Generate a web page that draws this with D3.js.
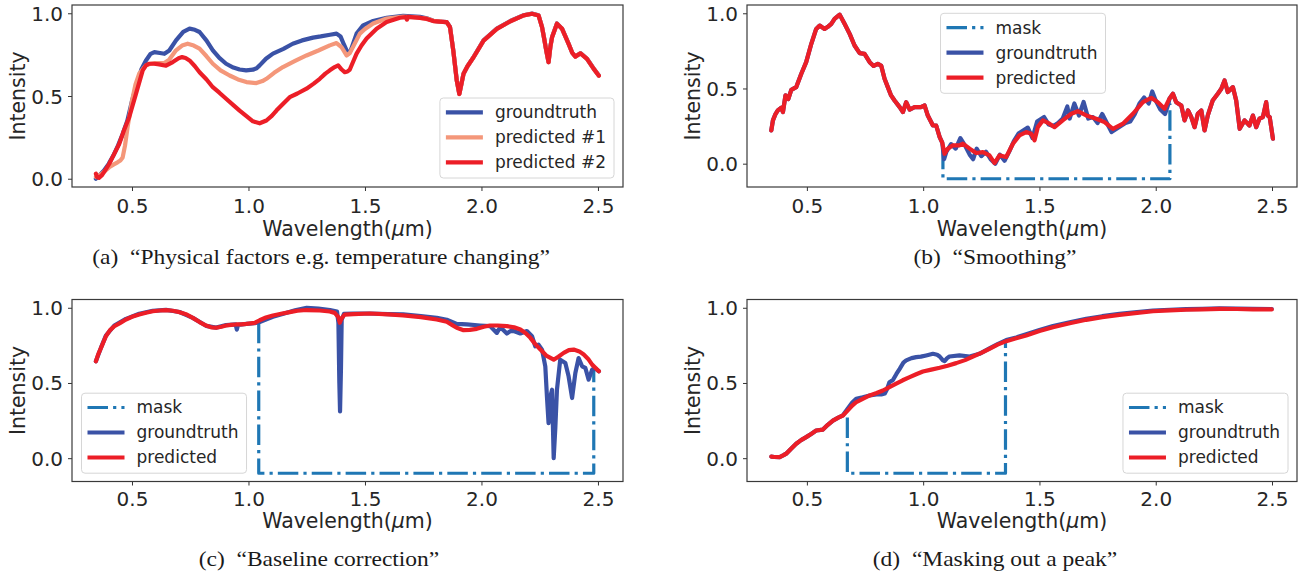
<!DOCTYPE html>
<html>
<head>
<meta charset="utf-8">
<script src="https://cdn.jsdelivr.net/npm/d3@7"></script>
<style>
  body { margin: 0; background: #fff; }
  svg { display: block; }
  .tick text { font-family: "DejaVu Sans", sans-serif; }
</style>
</head>
<body>
<svg id="fig" width="1299" height="576"></svg>
<script>
// ---- shared axis settings ----
const xTicks = [0.5, 1.0, 1.5, 2.0, 2.5];
const yTicks = [0.0, 0.5, 1.0];
const xLabel = "Wavelength(";
const yLabel = "Intensity";

// ---- (a) physical factors ----
const aTruth = [[0.345,0.00],[0.36,0.02],[0.38,0.05],[0.40,0.09],[0.42,0.14],[0.44,0.20],[0.46,0.27],[0.48,0.35],[0.50,0.47],[0.52,0.57],[0.54,0.66],[0.56,0.715],[0.58,0.755],[0.596,0.765],[0.62,0.76],[0.639,0.755],[0.66,0.775],[0.689,0.836],[0.72,0.888],[0.747,0.907],[0.77,0.90],[0.79,0.887],[0.82,0.835],[0.847,0.776],[0.875,0.73],[0.904,0.695],[0.935,0.672],[0.962,0.66],[0.99,0.655],[1.019,0.659],[1.035,0.668],[1.048,0.685],[1.075,0.725],[1.105,0.756],[1.15,0.785],[1.19,0.816],[1.23,0.836],[1.277,0.853],[1.31,0.86],[1.35,0.87],[1.378,0.877],[1.395,0.86],[1.41,0.81],[1.421,0.776],[1.43,0.758],[1.44,0.78],[1.464,0.877],[1.492,0.927],[1.535,0.953],[1.593,0.973],[1.664,0.984],[1.70,0.982],[1.736,0.978],[1.765,0.97],[1.793,0.955],[1.82,0.95],[1.851,0.947],[1.865,0.917],[1.879,0.776],[1.894,0.594],[1.905,0.513],[1.915,0.58],[1.923,0.635],[1.94,0.68],[1.966,0.735],[2.009,0.836],[2.066,0.907],[2.124,0.953],[2.181,0.988],[2.217,0.998],[2.245,0.988],[2.26,0.917],[2.27,0.84],[2.278,0.776],[2.288,0.705],[2.296,0.80],[2.303,0.856],[2.324,0.938],[2.346,0.907],[2.374,0.816],[2.39,0.76],[2.403,0.739],[2.425,0.759],[2.453,0.725],[2.482,0.665],[2.504,0.624]];
const aPred1 = [[0.345,0.01],[0.37,0.03],[0.402,0.069],[0.42,0.085],[0.438,0.099],[0.45,0.11],[0.46,0.129],[0.47,0.20],[0.481,0.311],[0.50,0.47],[0.515,0.57],[0.531,0.635],[0.56,0.685],[0.58,0.695],[0.60,0.699],[0.639,0.699],[0.66,0.72],[0.689,0.776],[0.715,0.805],[0.739,0.816],[0.765,0.805],[0.79,0.786],[0.82,0.74],[0.847,0.695],[0.88,0.655],[0.919,0.624],[0.955,0.60],[0.991,0.584],[1.034,0.578],[1.06,0.59],[1.077,0.604],[1.11,0.64],[1.148,0.675],[1.20,0.712],[1.249,0.745],[1.30,0.775],[1.349,0.806],[1.378,0.82],[1.399,0.796],[1.421,0.745],[1.435,0.76],[1.45,0.80],[1.478,0.877],[1.50,0.905],[1.535,0.938],[1.593,0.968],[1.664,0.98],[1.72,0.975],[1.765,0.968],[1.80,0.952],[1.83,0.949],[1.851,0.945],[1.865,0.915],[1.879,0.775],[1.894,0.593],[1.905,0.512],[1.915,0.58],[1.923,0.634],[1.94,0.68],[1.966,0.734],[2.009,0.835],[2.066,0.906],[2.124,0.952],[2.181,0.987],[2.217,0.997],[2.245,0.987],[2.26,0.916],[2.27,0.84],[2.278,0.775],[2.288,0.704],[2.296,0.80],[2.303,0.855],[2.324,0.937],[2.346,0.906],[2.374,0.815],[2.39,0.76],[2.403,0.738],[2.425,0.758],[2.453,0.724],[2.482,0.664],[2.504,0.623]];
const aPred2 = [[0.345,0.03],[0.35,0.01],[0.358,0.005],[0.37,0.02],[0.38,0.04],[0.402,0.089],[0.42,0.14],[0.445,0.21],[0.465,0.29],[0.488,0.372],[0.517,0.513],[0.546,0.655],[0.56,0.685],[0.574,0.695],[0.595,0.695],[0.617,0.691],[0.646,0.683],[0.675,0.705],[0.70,0.728],[0.715,0.735],[0.73,0.73],[0.747,0.715],[0.77,0.68],[0.79,0.644],[0.82,0.60],[0.847,0.553],[0.875,0.52],[0.904,0.483],[0.935,0.445],[0.962,0.412],[0.99,0.38],[1.019,0.347],[1.048,0.335],[1.077,0.352],[1.10,0.38],[1.12,0.412],[1.15,0.455],[1.177,0.493],[1.21,0.515],[1.249,0.544],[1.28,0.575],[1.306,0.604],[1.33,0.635],[1.349,0.655],[1.37,0.675],[1.385,0.685],[1.40,0.66],[1.413,0.644],[1.425,0.648],[1.435,0.66],[1.45,0.71],[1.464,0.756],[1.485,0.805],[1.507,0.847],[1.55,0.907],[1.593,0.947],[1.65,0.973],[1.675,0.977],[1.68,0.962],[1.685,0.978],[1.736,0.972],[1.765,0.966],[1.793,0.953],[1.82,0.95],[1.851,0.946],[1.865,0.916],[1.879,0.775],[1.894,0.593],[1.905,0.512],[1.915,0.58],[1.923,0.634],[1.94,0.68],[1.966,0.734],[2.009,0.835],[2.066,0.906],[2.124,0.952],[2.181,0.987],[2.217,0.997],[2.245,0.987],[2.26,0.916],[2.27,0.84],[2.278,0.775],[2.288,0.704],[2.296,0.80],[2.303,0.855],[2.324,0.937],[2.346,0.906],[2.374,0.815],[2.39,0.76],[2.403,0.738],[2.425,0.758],[2.453,0.724],[2.482,0.664],[2.504,0.623]];

// ---- (b) smoothing ----
const bPred = [[0.347,0.221],[0.354,0.288],[0.365,0.33],[0.375,0.354],[0.39,0.372],[0.397,0.343],[0.408,0.454],[0.42,0.43],[0.433,0.491],[0.454,0.509],[0.476,0.598],[0.497,0.675],[0.519,0.797],[0.54,0.896],[0.555,0.918],[0.576,0.896],[0.59,0.91],[0.605,0.93],[0.619,0.963],[0.641,0.991],[0.662,0.93],[0.684,0.863],[0.705,0.786],[0.727,0.735],[0.748,0.73],[0.77,0.675],[0.787,0.65],[0.805,0.664],[0.82,0.65],[0.834,0.564],[0.848,0.509],[0.862,0.454],[0.877,0.42],[0.899,0.376],[0.913,0.343],[0.927,0.409],[0.942,0.36],[0.963,0.376],[0.99,0.376],[1.006,0.387],[1.02,0.32],[1.042,0.254],[1.056,0.254],[1.071,0.177],[1.082,0.14],[1.092,0.066],[1.106,0.1],[1.128,0.122],[1.156,0.122],[1.171,0.133],[1.2,0.1],[1.228,0.071],[1.257,0.077],[1.285,0.055],[1.307,0.004],[1.328,0.055],[1.357,0.044],[1.386,0.133],[1.414,0.188],[1.443,0.21],[1.465,0.199],[1.479,0.155],[1.493,0.243],[1.515,0.288],[1.543,0.266],[1.565,0.243],[1.6,0.288],[1.637,0.332],[1.665,0.349],[1.701,0.321],[1.744,0.299],[1.78,0.276],[1.816,0.232],[1.859,0.266],[1.902,0.332],[1.945,0.409],[1.981,0.438],[2.009,0.409],[2.038,0.365],[2.059,0.432],[2.074,0.465],[2.088,0.409],[2.11,0.387],[2.124,0.288],[2.139,0.354],[2.153,0.31],[2.167,0.243],[2.181,0.332],[2.196,0.354],[2.21,0.221],[2.224,0.321],[2.245,0.42],[2.267,0.465],[2.282,0.498],[2.296,0.553],[2.31,0.476],[2.332,0.509],[2.346,0.42],[2.361,0.232],[2.382,0.288],[2.403,0.254],[2.418,0.32],[2.432,0.243],[2.446,0.299],[2.461,0.31],[2.475,0.409],[2.482,0.32],[2.49,0.31],[2.504,0.166]];
// groundtruth values inside the masked band (outside it the two spectra coincide)
const bTruthMasked = [[1.09,0.03],[1.10,0.08],[1.12,0.13],[1.14,0.10],[1.16,0.17],[1.18,0.12],[1.20,0.06],[1.215,0.03],[1.23,0.10],[1.25,0.05],[1.27,0.08],[1.29,0.03],[1.31,0.0],[1.33,0.06],[1.35,0.02],[1.37,0.08],[1.39,0.15],[1.41,0.20],[1.43,0.22],[1.45,0.24],[1.47,0.17],[1.49,0.28],[1.51,0.30],[1.52,0.31],[1.54,0.26],[1.56,0.25],[1.58,0.27],[1.60,0.30],[1.62,0.38],[1.63,0.30],[1.65,0.40],[1.67,0.32],[1.69,0.41],[1.71,0.30],[1.73,0.31],[1.75,0.27],[1.77,0.33],[1.79,0.27],[1.81,0.21],[1.83,0.23],[1.85,0.25],[1.87,0.27],[1.89,0.28],[1.91,0.33],[1.93,0.40],[1.95,0.44],[1.97,0.40],[1.985,0.48],[2.00,0.42],[2.02,0.36],[2.04,0.33],[2.055,0.40]];
const bMask = [[1.085,0.10],[1.085,-0.1],[2.061,-0.1],[2.061,0.40]];

// ---- (c) baseline correction ----
const cTruth = [[0.345,0.644],[0.367,0.735],[0.388,0.815],[0.424,0.882],[0.474,0.926],[0.531,0.96],[0.589,0.98],[0.646,0.986],[0.704,0.972],[0.761,0.933],[0.818,0.88],[0.861,0.868],[0.904,0.885],[0.945,0.889],[0.95,0.855],[0.955,0.886],[0.991,0.893],[1.027,0.897],[1.048,0.905],[1.08,0.925],[1.105,0.94],[1.15,0.96],[1.2,0.983],[1.25,1.0],[1.30,0.995],[1.35,0.985],[1.38,0.975],[1.386,0.90],[1.39,0.50],[1.393,0.311],[1.397,0.60],[1.40,0.92],[1.41,0.96],[1.45,0.962],[1.521,0.962],[1.6,0.958],[1.664,0.956],[1.74,0.945],[1.808,0.933],[1.851,0.92],[1.894,0.893],[1.937,0.889],[1.994,0.882],[2.037,0.878],[2.066,0.833],[2.076,0.86],[2.088,0.86],[2.109,0.829],[2.125,0.845],[2.138,0.845],[2.167,0.829],[2.195,0.845],[2.217,0.811],[2.231,0.744],[2.245,0.755],[2.26,0.722],[2.274,0.611],[2.281,0.411],[2.288,0.233],[2.296,0.411],[2.303,0.455],[2.31,0.0],[2.317,0.2],[2.324,0.455],[2.338,0.655],[2.36,0.633],[2.374,0.544],[2.389,0.4],[2.403,0.566],[2.417,0.666],[2.432,0.611],[2.446,0.6],[2.46,0.522],[2.475,0.589],[2.485,0.60],[2.504,0.578]];
const cPred = [[0.345,0.644],[0.355,0.69],[0.367,0.733],[0.388,0.811],[0.405,0.85],[0.424,0.877],[0.45,0.90],[0.474,0.922],[0.50,0.94],[0.531,0.955],[0.56,0.967],[0.589,0.977],[0.62,0.982],[0.646,0.984],[0.675,0.98],[0.704,0.971],[0.735,0.955],[0.761,0.933],[0.79,0.905],[0.818,0.882],[0.84,0.87],[0.861,0.867],[0.884,0.874],[0.904,0.882],[0.925,0.886],[0.947,0.889],[0.97,0.89],[0.991,0.893],[1.027,0.9],[1.048,0.917],[1.075,0.935],[1.105,0.949],[1.14,0.96],[1.177,0.971],[1.21,0.98],[1.249,0.985],[1.306,0.982],[1.349,0.975],[1.37,0.966],[1.385,0.94],[1.392,0.90],[1.40,0.93],[1.413,0.955],[1.45,0.958],[1.521,0.962],[1.6,0.956],[1.664,0.949],[1.74,0.938],[1.808,0.922],[1.851,0.907],[1.875,0.885],[1.894,0.867],[1.923,0.851],[1.95,0.853],[1.98,0.86],[2.01,0.874],[2.037,0.882],[2.07,0.882],[2.109,0.878],[2.14,0.87],[2.167,0.855],[2.19,0.83],[2.21,0.80],[2.23,0.76],[2.253,0.722],[2.28,0.68],[2.31,0.655],[2.33,0.675],[2.353,0.70],[2.375,0.718],[2.396,0.722],[2.42,0.71],[2.439,0.689],[2.458,0.66],[2.475,0.622],[2.49,0.60],[2.504,0.578]];
const cMask = [[1.044,0.90],[1.044,-0.1],[2.482,-0.1],[2.482,0.59]];

// ---- (d) masking out a peak ----
const dTruth = [[0.347,0.01],[0.36,0.008],[0.383,0.007],[0.40,0.02],[0.411,0.03],[0.43,0.06],[0.454,0.096],[0.475,0.12],[0.497,0.14],[0.52,0.163],[0.54,0.184],[0.569,0.19],[0.59,0.222],[0.612,0.25],[0.635,0.27],[0.655,0.285],[0.676,0.33],[0.695,0.37],[0.712,0.395],[0.74,0.405],[0.77,0.417],[0.80,0.424],[0.82,0.424],[0.835,0.43],[0.845,0.46],[0.855,0.505],[0.87,0.52],[0.885,0.56],[0.899,0.594],[0.915,0.635],[0.927,0.65],[0.95,0.665],[0.97,0.672],[0.99,0.675],[1.013,0.683],[1.042,0.694],[1.06,0.688],[1.071,0.676],[1.085,0.65],[1.092,0.645],[1.103,0.665],[1.113,0.676],[1.156,0.683],[1.2,0.676],[1.242,0.694],[1.285,0.73],[1.32,0.758],[1.357,0.785],[1.40,0.803],[1.443,0.824],[1.50,0.852],[1.558,0.878],[1.63,0.903],[1.701,0.926],[1.77,0.944],[1.844,0.959],[1.92,0.971],[1.988,0.982],[2.06,0.987],[2.131,0.991],[2.2,0.993],[2.274,0.996],[2.35,0.995],[2.418,0.993],[2.499,0.992]];
const dPred = [[0.347,0.01],[0.36,0.008],[0.383,0.007],[0.40,0.02],[0.411,0.03],[0.43,0.06],[0.454,0.096],[0.475,0.12],[0.497,0.14],[0.52,0.163],[0.54,0.184],[0.569,0.19],[0.59,0.222],[0.612,0.25],[0.635,0.27],[0.655,0.284],[0.676,0.318],[0.695,0.35],[0.712,0.372],[0.74,0.395],[0.77,0.417],[0.80,0.433],[0.827,0.45],[0.855,0.472],[0.884,0.495],[0.912,0.518],[0.942,0.539],[0.97,0.558],[0.999,0.576],[1.035,0.589],[1.071,0.601],[1.105,0.615],[1.142,0.632],[1.18,0.652],[1.214,0.676],[1.25,0.70],[1.285,0.727],[1.32,0.755],[1.357,0.778],[1.40,0.797],[1.443,0.816],[1.50,0.845],[1.558,0.871],[1.63,0.897],[1.701,0.92],[1.77,0.938],[1.844,0.953],[1.92,0.966],[1.988,0.977],[2.06,0.983],[2.131,0.987],[2.2,0.99],[2.274,0.993],[2.35,0.992],[2.418,0.99],[2.499,0.989]];
const dMask = [[0.674,0.27],[0.674,-0.1],[1.354,-0.1],[1.354,0.77]];

// groundtruth for (b): predicted outside the masked band, own values inside it
const bTruth = bPred.filter(d => d[0] < 1.085).concat(bTruthMasked, bPred.filter(d => d[0] > 2.058));

// ---- styling ----
const BLUE = "#3a52a6", SALMON = "#f4977a", RED = "#ec1e27", MASK = "#1f77b4";
const TEXT = "#262626";
const xDomain = [0.2425, 2.6075];

const panels = [
  { id: "a", x: 72, y: 5, w: 551, h: 182, yDomain: [-0.05, 1.05], legend: "lower right",
    series: [
      { label: "groundtruth", data: aTruth, color: BLUE },
      { label: "predicted #1", data: aPred1, color: SALMON },
      { label: "predicted #2", data: aPred2, color: RED }],
    caption: "(a)\u2002\u201cPhysical factors e.g. temperature changing\u201d", capX: 321, capY: 264,
    ylabX: 25, tickBase: 212.5, xlabBase: 236 },
  { id: "b", x: 747, y: 5, w: 550, h: 182, yDomain: [-0.155, 1.055], legend: "upper center",
    series: [
      { label: "mask", data: bMask, color: MASK, dash: true },
      { label: "groundtruth", data: bTruth, color: BLUE },
      { label: "predicted", data: bPred, color: RED }],
    caption: "(b)\u2002\u201cSmoothing\u201d", capX: 995, capY: 264,
    ylabX: 700, tickBase: 212.5, xlabBase: 236 },
  { id: "c", x: 72, y: 299.5, w: 551, h: 182, yDomain: [-0.155, 1.055], legend: "lower left",
    series: [
      { label: "mask", data: cMask, color: MASK, dash: true },
      { label: "groundtruth", data: cTruth, color: BLUE },
      { label: "predicted", data: cPred, color: RED }],
    caption: "(c)\u2002\u201cBaseline correction\u201d", capX: 319, capY: 566,
    ylabX: 25, tickBase: 505.5, xlabBase: 527.5 },
  { id: "d", x: 747, y: 299.5, w: 550, h: 182, yDomain: [-0.155, 1.055], legend: "lower right",
    series: [
      { label: "mask", data: dMask, color: MASK, dash: true },
      { label: "groundtruth", data: dTruth, color: BLUE },
      { label: "predicted", data: dPred, color: RED }],
    caption: "(d)\u2002\u201cMasking out a peak\u201d", capX: 995, capY: 566,
    ylabX: 700, tickBase: 505.5, xlabBase: 527.5 }
];

const svg = d3.select("#fig");
const defs = svg.append("defs");
const LW = 4.2, MASK_LW = 3.2;
const MASK_DASH = "20.5,5.1,3.2,5.1";

function drawPanel(p) {
  const g = svg.append("g").attr("class", "panel-" + p.id);
  const x = d3.scaleLinear().domain(xDomain).range([p.x, p.x + p.w]);
  const y = d3.scaleLinear().domain(p.yDomain).range([p.y + p.h, p.y]);

  defs.append("clipPath").attr("id", "clip-" + p.id)
    .append("rect").attr("x", p.x).attr("y", p.y).attr("width", p.w).attr("height", p.h);

  const line = d3.line().x(d => x(d[0])).y(d => y(d[1]));
  const plot = g.append("g").attr("clip-path", `url(#clip-${p.id})`);
  p.series.forEach(s => {
    plot.append("path")
      .attr("d", line(s.data))
      .attr("fill", "none")
      .attr("stroke", s.color)
      .attr("stroke-width", s.dash ? MASK_LW : LW)
      .attr("stroke-linejoin", "round")
      .attr("stroke-linecap", s.dash ? "butt" : "round")
      .attr("stroke-dasharray", s.dash ? MASK_DASH : null);
  });

  // axes
  const fs = 20;
  const xAxis = d3.axisBottom(x).tickValues(xTicks).tickFormat(d3.format(".1f")).tickSize(4).tickSizeOuter(0);
  const gx = g.append("g").attr("transform", `translate(0,${p.y + p.h})`).call(xAxis);
  const yAxis = d3.axisLeft(y).tickValues(yTicks).tickFormat(d3.format(".1f")).tickSize(4).tickSizeOuter(0).tickPadding(5);
  const gy = g.append("g").attr("transform", `translate(${p.x},0)`).call(yAxis);
  [gx, gy].forEach(ax => {
    ax.select(".domain").remove();
    ax.selectAll(".tick line").attr("stroke", "#333").attr("stroke-width", 1);
    ax.selectAll(".tick text").attr("font-size", fs).attr("fill", TEXT);
  });
  gx.selectAll(".tick text").attr("dy", null).attr("y", p.tickBase - (p.y + p.h));
  gy.selectAll(".tick text").attr("dy", "0.35em");

  // frame
  g.append("rect").attr("x", p.x).attr("y", p.y).attr("width", p.w).attr("height", p.h)
    .attr("fill", "none").attr("stroke", "#3a3a3a").attr("stroke-width", 1.2);

  // axis titles
  const xt = g.append("text").attr("x", p.x + p.w / 2).attr("y", p.xlabBase)
    .attr("text-anchor", "middle").attr("font-family", "DejaVu Sans, sans-serif")
    .attr("font-size", 20.5).attr("fill", TEXT);
  xt.append("tspan").text(xLabel);
  xt.append("tspan").attr("font-style", "italic").text("\u03bc");
  xt.append("tspan").text("m)");

  g.append("text")
    .attr("transform", `translate(${p.ylabX},${p.y + p.h / 2}) rotate(-90)`)
    .attr("text-anchor", "middle").attr("font-family", "DejaVu Sans, sans-serif")
    .attr("font-size", 20.5).attr("fill", TEXT).text(yLabel);

  drawLegend(g, p);
}

function drawLegend(g, p) {
  const fs = 17, rowGap = 25, padTop = 14.3, handleL = 6, handleLen = 37, textGap = 12, padR = 8, boxH = 80;
  const lg = g.append("g");
  const box = lg.append("rect");
  let maxW = 0;
  const texts = p.series.map((s, i) => {
    const t = lg.append("text").attr("font-family", "DejaVu Sans, sans-serif")
      .attr("font-size", fs).attr("fill", TEXT).attr("dy", "0.35em").text(s.label);
    maxW = Math.max(maxW, t.node().getComputedTextLength());
    return t;
  });
  const boxW = handleL + handleLen + textGap + maxW + padR;
  let bx, by;
  if (p.legend === "lower right") { bx = p.x + p.w - 9 - boxW; by = p.y + p.h - 9 - boxH; }
  else if (p.legend === "lower left") { bx = p.x + 9.5; by = p.y + p.h - 8 - boxH; }
  else { bx = p.x + p.w / 2 - boxW / 2 + 1; by = p.y + 8.3; }
  if (p.id === "c" || p.id === "d") by = p.y + p.h - 8.3 - boxH;
  box.attr("x", bx).attr("y", by).attr("width", boxW).attr("height", boxH).attr("rx", 3.5)
    .attr("fill", "#fff").attr("fill-opacity", 0.8).attr("stroke", "#d6d6d6").attr("stroke-width", 1);
  p.series.forEach((s, i) => {
    const ry = by + padTop + i * rowGap;
    lg.append("line").attr("x1", bx + handleL).attr("x2", bx + handleL + handleLen)
      .attr("y1", ry).attr("y2", ry).attr("stroke", s.color)
      .attr("stroke-width", s.dash ? MASK_LW : LW)
      .attr("stroke-dasharray", s.dash ? MASK_DASH : null);
    texts[i].attr("x", bx + handleL + handleLen + textGap).attr("y", ry);
  });
}

panels.forEach(drawPanel);

// sub-figure captions (serif, widened to the book-face proportions)
const CAP_FS = 20.5, CAP_WIDTH_A = 458;
const caps = panels.map(p => svg.append("text").attr("text-anchor", "middle")
  .attr("font-family", "Liberation Serif, serif").attr("font-size", CAP_FS)
  .attr("fill", "#1a1a1a").text(p.caption));
const sx = CAP_WIDTH_A / caps[0].node().getComputedTextLength();
caps.forEach((t, i) => {
  const p = panels[i];
  t.attr("transform", `translate(${p.capX},${p.capY}) scale(${sx},1)`);
});
</script>
</body>
</html>
